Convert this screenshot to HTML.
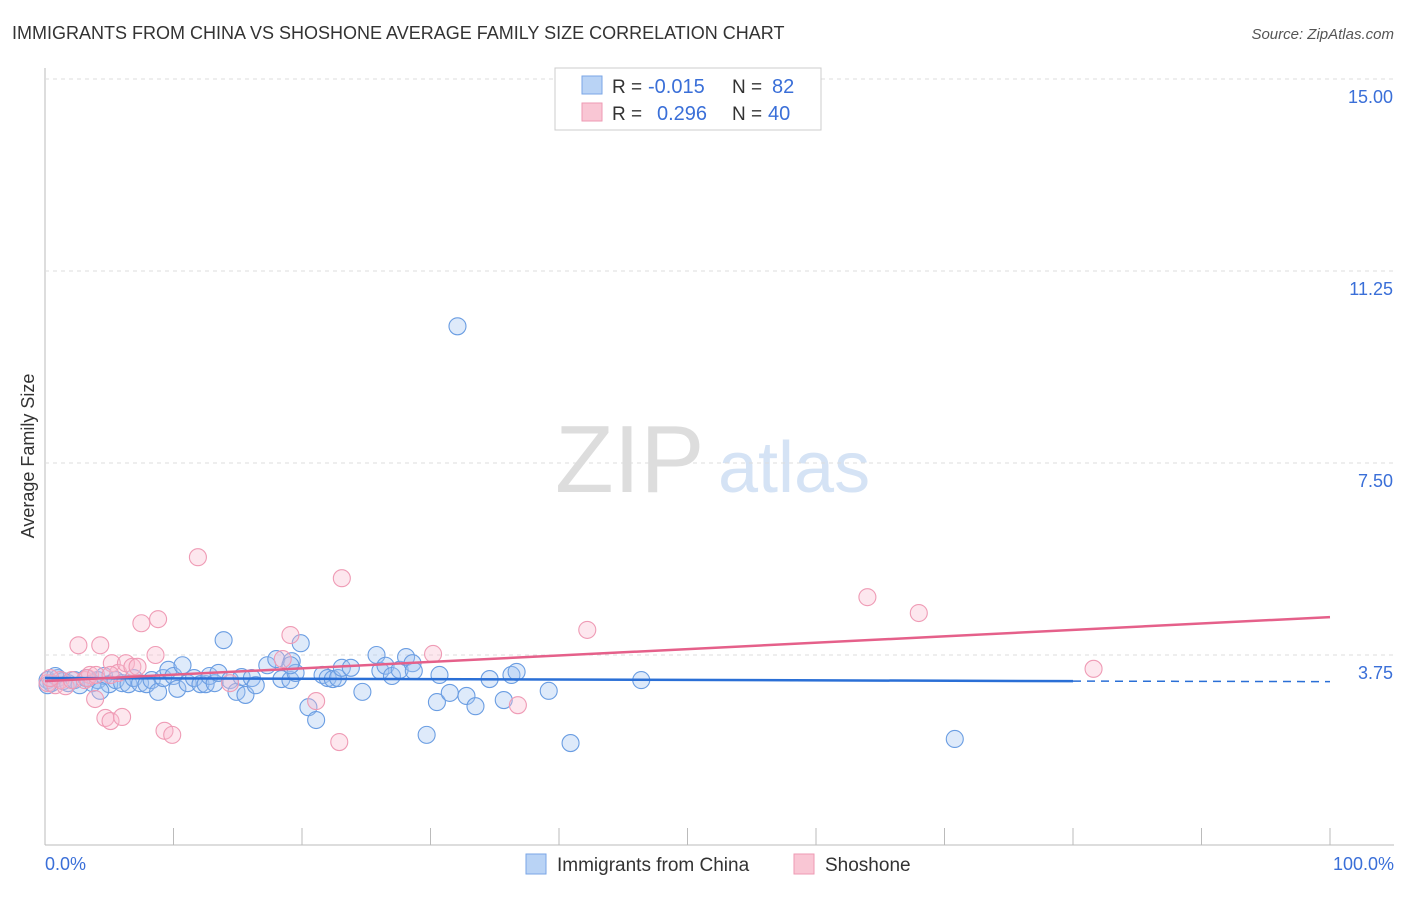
<!DOCTYPE html>
<html><head><meta charset="utf-8"><style>
body{margin:0;background:#fff;font-family:"Liberation Sans",sans-serif}
svg text{font-family:"Liberation Sans",sans-serif}
</style></head><body>
<svg id="c" width="1406" height="892">
<text x="12" y="39" font-size="18" fill="#333">IMMIGRANTS FROM CHINA VS SHOSHONE AVERAGE FAMILY SIZE CORRELATION CHART</text>
<text x="1394" y="39" font-size="15" fill="#555" font-style="italic" text-anchor="end">Source: ZipAtlas.com</text>
<text x="34" y="456" font-size="18" fill="#333" text-anchor="middle" transform="rotate(-90 34 456)">Average Family Size</text>
<text x="555" y="492" font-size="96" fill="#ddd" font-family="Liberation Serif">ZIP</text>
<text x="718" y="492" font-size="72" fill="#d5e3f5">atlas</text>
<g id="grid"></g><g id="pts"></g><g id="lines"></g>
<text x="45" y="870" font-size="18" fill="#3a6fd8">0.0%</text>
<text x="1394" y="870" font-size="18" fill="#3a6fd8" text-anchor="end">100.0%</text>
<g>
<rect x="555" y="68" width="266" height="62" fill="#fff" stroke="#ccc"/>
<rect x="582" y="76" width="20" height="18" fill="#b9d3f5" stroke="#7aa6e6"/>
<rect x="582" y="103" width="20" height="18" fill="#f9c6d4" stroke="#ee9ab3"/>
<text x="612" y="93" font-size="19" fill="#333">R =</text>
<text x="648" y="93" font-size="20" fill="#3a6fd8">-0.015</text>
<text x="732" y="93" font-size="19" fill="#333">N =</text>
<text x="772" y="93" font-size="20" fill="#3a6fd8">82</text>
<text x="612" y="120" font-size="19" fill="#333">R =</text>
<text x="657" y="120" font-size="20" fill="#3a6fd8">0.296</text>
<text x="732" y="120" font-size="19" fill="#333">N =</text>
<text x="768" y="120" font-size="20" fill="#3a6fd8">40</text>
</g>
<g>
<rect x="526" y="854" width="20" height="20" fill="#b9d3f5" stroke="#7aa6e6"/>
<text x="557" y="871" font-size="19" fill="#333">Immigrants from China</text>
<rect x="794" y="854" width="20" height="20" fill="#f9c6d4" stroke="#ee9ab3"/>
<text x="825" y="871" font-size="19" fill="#333">Shoshone</text>
</g>
</svg>
<script>
const yTicks=[3.75,7.5,11.25,15];
const yTickLabels=["3.75","7.50","11.25","15.00"];
const xTicks=[0,10,20,30,40,50,60,70,80,90,100];
const chinaX=[0.2,0.5,1,1.4,1.8,2.3,2.7,3.2,3.7,4.1,4.6,5,5.5,6,6.5,6.9,7.4,7.9,8.3,8.8,9.2,9.6,10,10.3,10.7,11.1,11.6,12.1,12.5,12.8,13.2,13.5,13.9,14.4,14.9,15.3,15.6,16.1,16.4,17.3,18,18.4,19.1,19.2,19.5,19.9,20.5,21.1,21.6,22,22.4,22.8,23.1,23.8,24.7,25.8,26.1,26.5,27,27.6,28.1,28.6,28.7,29.7,30.5,30.7,31.5,32.8,33.5,34.6,35.7,36.3,36.7,39.2,40.9,46.4,70.8,32.1,0.2,0.8,4.3,19.1];
const chinaY=[3.26,3.2,3.3,3.24,3.2,3.26,3.16,3.3,3.2,3.26,3.34,3.18,3.26,3.2,3.18,3.3,3.2,3.18,3.26,3.03,3.3,3.46,3.34,3.09,3.55,3.2,3.3,3.18,3.18,3.34,3.2,3.4,4.04,3.26,3.03,3.32,2.97,3.3,3.16,3.55,3.67,3.28,3.26,3.63,3.4,3.98,2.73,2.48,3.36,3.3,3.28,3.3,3.5,3.5,3.03,3.75,3.44,3.54,3.34,3.46,3.71,3.59,3.44,2.19,2.83,3.36,3.01,2.95,2.75,3.28,2.87,3.36,3.42,3.05,2.03,3.26,2.11,10.17,3.16,3.34,3.05,3.55];
const shoX=[0.2,0.8,1.2,1.6,2.1,2.6,3.1,3.5,3.9,4.3,4.7,5.1,5.2,5.7,6,6.3,6.8,7.2,7.5,8.6,8.8,9.3,9.9,11.9,14.4,18.5,19.1,21.1,22.9,23.1,30.2,36.8,42.2,64,68,81.6,0.4,3.3,3.97,5.1];
const shoY=[3.2,3.16,3.26,3.14,3.26,3.94,3.26,3.36,2.89,3.94,2.52,2.46,3.59,3.4,2.54,3.59,3.52,3.52,4.37,3.75,4.45,2.27,2.19,5.66,3.2,3.67,4.14,2.85,2.05,5.25,3.77,2.77,4.24,4.88,4.57,3.48,3.3,3.3,3.36,3.36];
const X=v=>45+v*12.85, Y=v=>847-v*51.2;
const NS="http://www.w3.org/2000/svg";
function mk(t,a,p){const e=document.createElementNS(NS,t);for(const k in a)e.setAttribute(k,a[k]);p.appendChild(e);return e;}
const grid=document.getElementById('grid'),pts=document.getElementById('pts'),lines=document.getElementById('lines');
let ax=mk('line',{x1:45,y1:68,x2:45,y2:845,stroke:'#bbb'},grid);


let bx=mk('line',{x1:45,y1:845,x2:1394,y2:845,stroke:'#bbb'},grid);


yTicks.forEach((v,i)=>{
 const g=mk('line',{x1:45,y1:Y(v),x2:1394,y2:Y(v),stroke:'#ddd','stroke-dasharray':'4,4'},grid);
 
 
 const t=mk('text',{x:1393,y:Y(v)+24,'font-size':18,fill:'#3a6fd8','text-anchor':'end'},grid);
 t.textContent=yTickLabels[i];
 
 
});
xTicks.forEach(v=>{
 const l=mk('line',{x1:X(v),y1:828,x2:X(v),y2:845,stroke:'#bbb'},grid);
 
 
});
chinaX.forEach((v,i)=>{
 const c=mk('circle',{cx:X(v),cy:Y(chinaY[i]),r:8.5,fill:'rgba(160,195,240,0.35)',stroke:'#6a9de2','stroke-width':1.1},pts);
 
 
});
shoX.forEach((v,i)=>{
 const c=mk('circle',{cx:X(v),cy:Y(shoY[i]),r:8.5,fill:'rgba(248,185,205,0.35)',stroke:'#ef9bb5','stroke-width':1.1},pts);
 
 
});
const bl=mk('line',{x1:X(0),y1:Y(3.3),x2:X(80),y2:Y(3.24),stroke:'#2a6fd6','stroke-width':2.5},lines);


const bd=mk('line',{x1:X(80),y1:Y(3.24),x2:X(100),y2:Y(3.23),stroke:'#2a6fd6','stroke-width':1.5,'stroke-dasharray':'8,6'},lines);


const pl=mk('line',{x1:X(0),y1:Y(3.24),x2:X(100),y2:Y(4.49),stroke:'#e5608a','stroke-width':2.5},lines);


</script>
</body></html>
